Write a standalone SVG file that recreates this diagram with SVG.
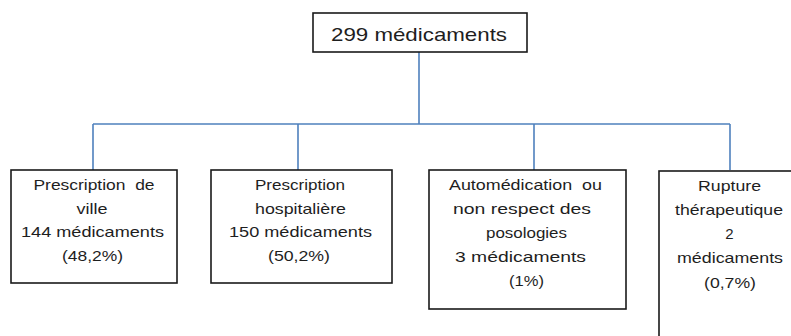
<svg xmlns="http://www.w3.org/2000/svg" width="791" height="336" viewBox="0 0 791 336">
<style>
.box{fill:#fff;stroke:#1a1a1a;stroke-width:1.6}
.conn{fill:none;stroke:#4f81bd;stroke-width:1.6}
text{font-family:"Liberation Sans",Arial,sans-serif;font-size:15px;fill:#1e1e1e;text-anchor:middle}
.top{font-size:19px}
</style>
<rect width="791" height="336" fill="#fff"/>
<g id="connectors">
<path class="conn" d="M419 52V124M93 124H730M93 124V170M298 124V170M534 124V170M730 124V170"/>
</g>
<g id="root">
<rect class="box" x="313" y="13" width="214" height="39"/>
<text class="top" x="419" y="41" textLength="176" lengthAdjust="spacingAndGlyphs">299 médicaments</text>
</g>
<g id="ville">
<rect class="box" x="11" y="170" width="166" height="113"/>
<text x="94" y="190" textLength="121" lengthAdjust="spacingAndGlyphs" xml:space="preserve">Prescription  de</text>
<text x="92" y="213.5" textLength="31" lengthAdjust="spacingAndGlyphs">ville</text>
<text x="92.5" y="237" textLength="143" lengthAdjust="spacingAndGlyphs">144 médicaments</text>
<text x="92.5" y="260.5" textLength="61" lengthAdjust="spacingAndGlyphs">(48,2%)</text>
</g>
<g id="hospitaliere">
<rect class="box" x="211" y="170" width="181" height="113"/>
<text x="300" y="190" textLength="90" lengthAdjust="spacingAndGlyphs">Prescription</text>
<text x="300.5" y="213.5" textLength="91" lengthAdjust="spacingAndGlyphs">hospitalière</text>
<text x="300.5" y="237" textLength="143" lengthAdjust="spacingAndGlyphs">150 médicaments</text>
<text x="299" y="260.5" textLength="62" lengthAdjust="spacingAndGlyphs">(50,2%)</text>
</g>
<g id="automedication">
<rect class="box" x="429" y="170" width="197" height="139"/>
<text x="525.5" y="190" textLength="153" lengthAdjust="spacingAndGlyphs" xml:space="preserve">Automédication  ou</text>
<text x="522" y="214" textLength="138" lengthAdjust="spacingAndGlyphs">non respect des</text>
<text x="526.5" y="238" textLength="81" lengthAdjust="spacingAndGlyphs">posologies</text>
<text x="520.5" y="262" textLength="131" lengthAdjust="spacingAndGlyphs">3 médicaments</text>
<text x="526.5" y="286" textLength="35" lengthAdjust="spacingAndGlyphs">(1%)</text>
</g>
<g id="rupture">
<rect class="box" x="659" y="171" width="141" height="180"/>
<text x="729.5" y="191" textLength="63" lengthAdjust="spacingAndGlyphs">Rupture</text>
<text x="729" y="215" textLength="108" lengthAdjust="spacingAndGlyphs">thérapeutique</text>
<text x="729.5" y="239">2</text>
<text x="730" y="263" textLength="106" lengthAdjust="spacingAndGlyphs">médicaments</text>
<text x="730" y="288" textLength="52" lengthAdjust="spacingAndGlyphs">(0,7%)</text>
</g>
</svg>
